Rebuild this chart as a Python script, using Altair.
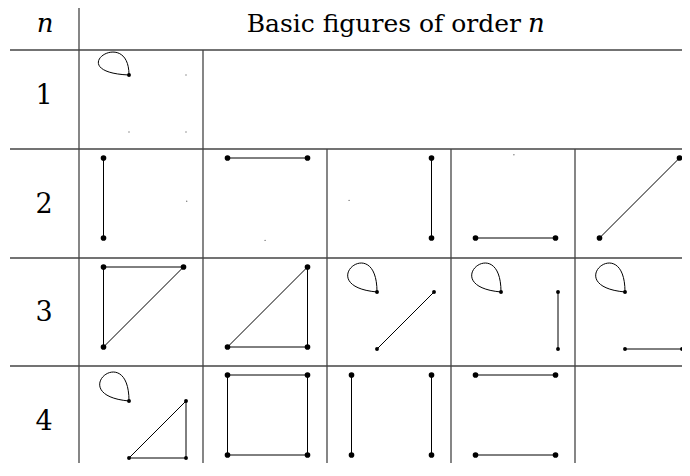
import altair as alt
import pandas as pd

# ---------------- table content ----------------
ORDERS = [1, 2, 3, 4]
HEADER_N = "n"
HEADER_TITLE = "Basic figures of order"
HEADER_TITLE_VAR = "n"

# Each figure: (order n, cell index, size class, edges, loop vertices, faint placeholder dots)
# Vertices live on a 2x2 lattice (i, j): i = 0 left / 1 right, j = 0 top / 1 bottom
FIGURES = [
    (1, 0, "small", [], [(0, 0)], [(1, 0), (0, 1), (1, 1)]),
    (2, 0, "large", [((0, 0), (0, 1))], [], [(1.04, 0.54)]),
    (2, 1, "large", [((0, 0), (1, 0))], [], [(0.47, 1.03)]),
    (2, 2, "large", [((1, 0), (1, 1))], [], [(-0.03, 0.53)]),
    (2, 3, "large", [((0, 1), (1, 1))], [], [(0.48, -0.04)]),
    (2, 4, "large", [((0, 1), (1, 0))], [], []),
    (3, 0, "large", [((0, 0), (1, 0)), ((0, 0), (0, 1)), ((0, 1), (1, 0))], [], []),
    (3, 1, "large", [((0, 1), (1, 1)), ((1, 1), (1, 0)), ((0, 1), (1, 0))], [], []),
    (3, 2, "small", [((0, 1), (1, 0))], [(0, 0)], []),
    (3, 3, "small", [((1, 0), (1, 1))], [(0, 0)], []),
    (3, 4, "small", [((0, 1), (1, 1))], [(0, 0)], []),
    (4, 0, "small", [((0, 1), (1, 1)), ((1, 0), (1, 1)), ((0, 1), (1, 0))], [(0, 0)], []),
    (4, 1, "large", [((0, 0), (1, 0)), ((0, 1), (1, 1)), ((0, 0), (0, 1)), ((1, 0), (1, 1))], [], []),
    (4, 2, "large", [((0, 0), (0, 1)), ((1, 0), (1, 1))], [], []),
    (4, 3, "large", [((0, 0), (1, 0)), ((0, 1), (1, 1))], [], []),
]
CELLS_PER_ROW = [1, 5, 5, 5]

# ---------------- layout (page pixel units) ----------------
LABEL_COL_RIGHT = 79
CELL_W = 124
ROW_EDGES = [50, 149, 258, 366, 475]
X_MIN, X_MAX = 8, 682
Y_MIN, Y_MAX = 8, 463
FONT = "DejaVu Serif"
FS = 25
HEADER_BASELINE = 32
GRID = "#444444"

LOOP_PATH_TALL = "M0,0 C0,-2.07 -2.2,-0.2 0,0"
LOOP_PATH_SHORT = "M0,0 C0,-1.67 -2.3,-0.1 0,0"


def place(order, cell, size, i, j):
    left = LABEL_COL_RIGHT + CELL_W * cell
    top, bottom = ROW_EDGES[order - 1], ROW_EDGES[order]
    if size == "large":
        return left + 24.5 + 80 * i, top + 9 + 80 * j
    return left + 50 + 57 * i, bottom - 17 - 57 * (1 - j)


edge_rows, vert_rows, loop_rows, dot_rows = [], [], [], []
for order, cell, size, edges, loops, dots in FIGURES:
    vsize = 32 if size == "large" else 15
    verts = set()
    for a, b in edges:
        x1, y1 = place(order, cell, size, *a)
        x2, y2 = place(order, cell, size, *b)
        edge_rows.append(dict(x=x1, y=y1, x2=x2, y2=y2))
        verts.add(a)
        verts.add(b)
    for v in loops:
        x, y = place(order, cell, size, *v)
        loop_rows.append(dict(x=x, y=y, path=LOOP_PATH_SHORT if order == 1 else LOOP_PATH_TALL))
        verts.add(v)
    for v in verts:
        x, y = place(order, cell, size, *v)
        vert_rows.append(dict(x=x, y=y, s=vsize))
    for d in dots:
        x, y = place(order, cell, size, *d)
        dot_rows.append(dict(x=x, y=y))

# grid lines
h_rows = [dict(x=10, x2=X_MAX, y=y) for y in ROW_EDGES[:-1]]
v_rows = [dict(x=LABEL_COL_RIGHT, y=Y_MIN, y2=Y_MAX)]
for k, order in enumerate(ORDERS):
    for c in range(CELLS_PER_ROW[k]):
        v_rows.append(dict(x=LABEL_COL_RIGHT + CELL_W * (c + 1),
                           y=ROW_EDGES[k], y2=min(ROW_EDGES[k + 1], Y_MAX)))

label_rows = [dict(x=44, y=ROW_EDGES[k + 1] - 45, t=str(o)) for k, o in enumerate(ORDERS)]
label_rows[0]["y"] = 104

xs = alt.Scale(domain=[X_MIN, X_MAX], nice=False, zero=False)
ys = alt.Scale(domain=[Y_MIN, Y_MAX], nice=False, zero=False, reverse=True)
X = alt.X("x:Q", scale=xs, axis=None)
Y = alt.Y("y:Q", scale=ys, axis=None)

grid_h = alt.Chart(pd.DataFrame(h_rows)).mark_rule(color=GRID, strokeWidth=1.3).encode(X, x2="x2:Q", y=Y)
grid_v = alt.Chart(pd.DataFrame(v_rows)).mark_rule(color=GRID, strokeWidth=1.3).encode(X, Y, y2="y2:Q")
edges_l = alt.Chart(pd.DataFrame(edge_rows)).mark_rule(color="black", strokeWidth=1).encode(
    X, Y, x2="x2:Q", y2="y2:Q")
loops_l = alt.Chart(pd.DataFrame(loop_rows)).mark_point(
    filled=False, color="black", strokeWidth=1, opacity=1, size=3600).encode(
    X, Y, shape=alt.Shape("path:N", scale=None))
verts_l = alt.Chart(pd.DataFrame(vert_rows)).mark_circle(color="black", opacity=1).encode(
    X, Y, size=alt.Size("s:Q", scale=None))
dots_l = alt.Chart(pd.DataFrame(dot_rows)).mark_circle(color="#777777", opacity=1, size=2).encode(X, Y)

hdr = pd.DataFrame([dict(x=45, y=HEADER_BASELINE, t=HEADER_N)])
hdr_n = alt.Chart(hdr).mark_text(font=FONT, fontSize=FS + 1, fontStyle="italic", align="center",
                                 baseline="alphabetic", color="black").encode(X, Y, text="t:N")
title_df = pd.DataFrame([dict(x=521, y=HEADER_BASELINE, t=HEADER_TITLE)])
title_l = alt.Chart(title_df).mark_text(font=FONT, fontSize=FS, align="right",
                                        baseline="alphabetic", color="black").encode(X, Y, text="t:N")
var_df = pd.DataFrame([dict(x=528, y=HEADER_BASELINE, t=HEADER_TITLE_VAR)])
var_l = alt.Chart(var_df).mark_text(font=FONT, fontSize=FS + 1, fontStyle="italic", align="left",
                                    baseline="alphabetic", color="black").encode(X, Y, text="t:N")
labels_l = alt.Chart(pd.DataFrame(label_rows)).mark_text(font=FONT, fontSize=27, align="center",
                                                         baseline="alphabetic", color="black").encode(X, Y, text="t:N")

chart = alt.layer(grid_h, grid_v, edges_l, loops_l, verts_l, dots_l, hdr_n, title_l, var_l, labels_l).properties(
    width=X_MAX - X_MIN, height=Y_MAX - Y_MIN,
    autosize=alt.AutoSizeParams(type="none"), padding=0, background="white",
).configure_view(stroke=None)

chart.save("out.html", embed_options={"renderer": "svg", "actions": False})
